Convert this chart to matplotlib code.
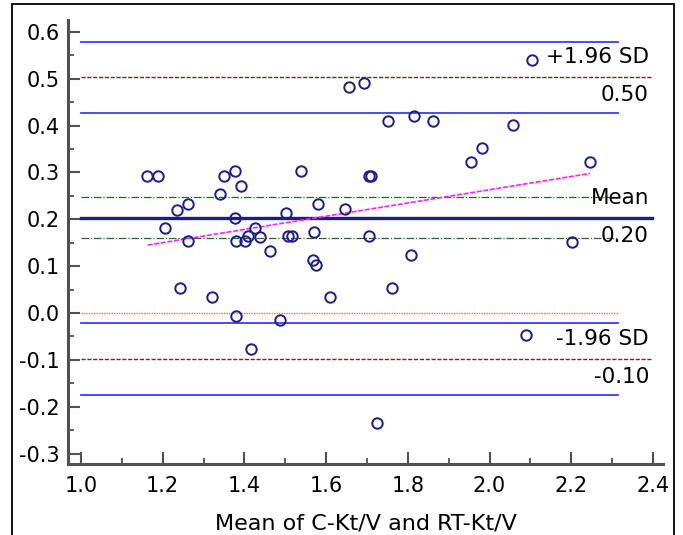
import matplotlib
matplotlib.use("Agg")
import matplotlib.pyplot as plt
from matplotlib.patches import Rectangle
import numpy as np

plt.rcParams['font.family'] = ['DejaVu Sans']

# --- data ---
mean_x = [1.162, 1.189, 1.206, 1.234, 1.242, 1.263, 1.263, 1.320, 1.341, 1.351,
          1.377, 1.377, 1.380, 1.380, 1.392, 1.402, 1.409, 1.417, 1.426, 1.437,
          1.462, 1.486, 1.501, 1.507, 1.517, 1.538, 1.569, 1.570, 1.575, 1.580,
          1.609, 1.647, 1.656, 1.692, 1.704, 1.706, 1.710, 1.725, 1.752, 1.761,
          1.807, 1.816, 1.861, 1.955, 1.981, 2.057, 2.090, 2.105, 2.202, 2.245]
diff_y = [0.292, 0.292, 0.181, 0.220, 0.053, 0.232, 0.153, 0.034, 0.254, 0.293,
          0.303, 0.203, 0.154, -0.006, 0.272, 0.154, 0.164, -0.076, 0.182, 0.163,
          0.133, -0.016, 0.214, 0.164, 0.164, 0.303, 0.113, 0.174, 0.102, 0.233,
          0.034, 0.222, 0.482, 0.491, 0.293, 0.164, 0.293, -0.234, 0.411, 0.053,
          0.124, 0.421, 0.411, 0.322, 0.353, 0.401, -0.048, 0.540, 0.152, 0.322]

mean_diff = 0.203
upper_loa = 0.504
lower_loa = -0.098
mean_ci = [0.161, 0.248]
upper_ci = [0.428, 0.578]
lower_ci = [-0.175, -0.021]
zero_line = 0.0
reg_x = [1.163, 2.246]
reg_y = [0.145, 0.298]

label_upper = ["+1.96 SD", "0.50"]
label_mean = ["Mean", "0.20"]
label_lower = ["-1.96 SD", "-0.10"]
xlabel = "Mean of C-Kt/V and RT-Kt/V"

x_ticks = [1.0, 1.2, 1.4, 1.6, 1.8, 2.0, 2.2, 2.4]
y_ticks = [-0.3, -0.2, -0.1, 0.0, 0.1, 0.2, 0.3, 0.4, 0.5, 0.6]

W, H = 683, 535
fig = plt.figure(figsize=(W / 100, H / 100), dpi=100)
ax = fig.add_axes([68 / W, 1 - 464 / H, (663 - 68) / W, (464 - 20) / H])
ax.set_xlim(0.9682, 2.4245)
ax.set_ylim(-0.3224, 0.6256)

short_end = 2.315
long_end = 2.397
x0 = 1.0

blue = '#3b3bff'
navy = '#1c1c8a'
darkred = '#8b1a1a'
green = '#1f6b1f'

for v in upper_ci + lower_ci:
    ax.plot([x0, short_end], [v, v], color=blue, lw=1.3, zorder=2)
for v in mean_ci:
    ax.plot([x0, short_end], [v, v], color=green, lw=0.9, dashes=[6, 1.5, 1, 1.5], zorder=2)
for v in [upper_loa, lower_loa]:
    ax.plot([x0, long_end], [v, v], color=darkred, lw=1.0, dashes=[3, 1.2], zorder=2)
ax.plot([x0, short_end], [zero_line, zero_line], color='#ff7a2a', lw=1.0, dashes=[1, 0.8], zorder=2)
ax.plot([x0, long_end], [mean_diff, mean_diff], color=navy, lw=2.4, zorder=2)
ax.plot(reg_x, reg_y, color='#ff22ff', lw=1.2, dashes=[3, 1], zorder=3)

ax.plot(mean_x, diff_y, linestyle='none', marker='o', markersize=7.5,
        markerfacecolor='none', markeredgecolor=navy, markeredgewidth=1.4, zorder=4)

fs = 15.5
tx = 2.39
for v, labs in [(upper_loa, label_upper), (mean_diff, label_mean), (lower_loa, label_lower)]:
    ax.annotate(labs[0], (tx, v), xytext=(0, 7), textcoords='offset points',
                ha='right', va='bottom', fontsize=fs, color='black')
    ax.annotate(labs[1], (tx, v), xytext=(0, -6), textcoords='offset points',
                ha='right', va='top', fontsize=fs, color='black')

for s in ['top', 'right']:
    ax.spines[s].set_visible(False)
for s in ['left', 'bottom']:
    ax.spines[s].set_linewidth(2.2)
    ax.spines[s].set_color('#505050')

ax.set_xticks(x_ticks)
ax.set_xticklabels([f"{t:.1f}" for t in x_ticks])
ax.set_yticks(y_ticks)
ax.set_yticklabels([f"{t:.1f}" for t in y_ticks])
ax.set_xticks(np.array(x_ticks[:-1]) + 0.1, minor=True)
ax.set_yticks(np.array(y_ticks[:-1]) + 0.05, minor=True)
ax.tick_params(which='major', direction='in', length=8.5, width=1.5, color='#505050',
               labelsize=15, pad=6)
ax.tick_params(which='minor', direction='in', length=4.5, width=1.3, color='#505050')
ax.tick_params(axis='x', which='major', pad=9)

ax.set_xlabel(xlabel, fontsize=16, labelpad=12)

fig.patches.append(Rectangle((12 / W, -0.1), (674 - 12) / W, 1.1 - 4 / H,
                             transform=fig.transFigure, fill=False,
                             edgecolor='black', linewidth=1.3))

fig.savefig('out.png', dpi=100)
